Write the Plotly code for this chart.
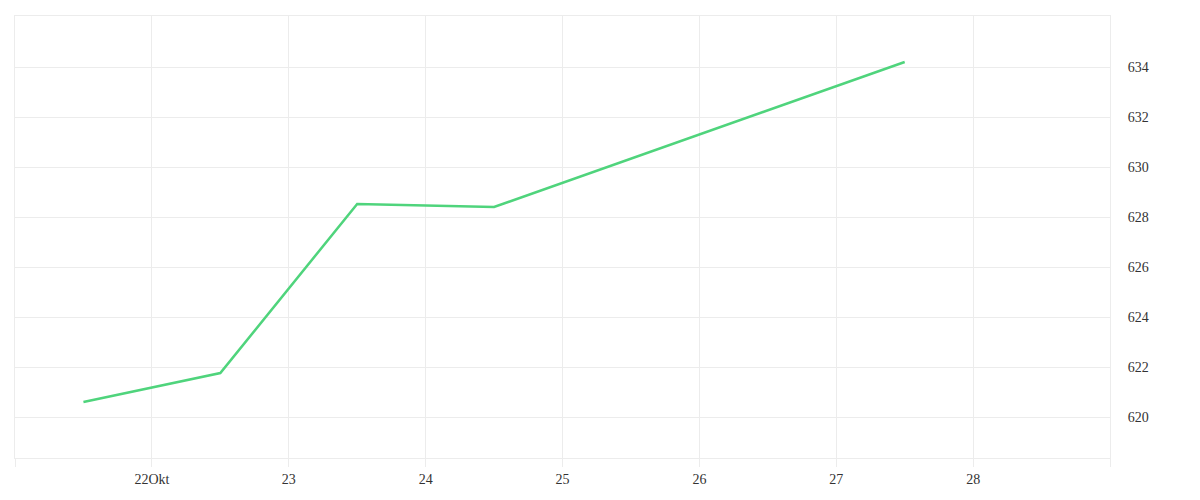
import plotly.graph_objects as go

dates = ["2023-10-21 12:00", "2023-10-22 12:00", "2023-10-23 12:00", "2023-10-24 12:00", "2023-10-27 12:00"]
values = [620.6, 621.76, 628.52, 628.4, 634.2]

tick_dates = ["2023-10-21", "2023-10-22", "2023-10-23", "2023-10-24", "2023-10-25",
              "2023-10-26", "2023-10-27", "2023-10-28", "2023-10-29"]
tick_labels = ["", "22Okt", "23", "24", "25", "26", "27", "28", ""]
y_ticks = [620, 622, 624, 626, 628, 630, 632, 634]

grid = "#ececec"

fig = go.Figure(go.Scatter(
    x=dates, y=values, mode="lines",
    line=dict(color="#4fd47c", width=2.5),
    hoverinfo="x+y",
))

fig.update_layout(
    width=1200, height=500,
    margin=dict(l=7, r=98, t=8, b=50),
    plot_bgcolor="white", paper_bgcolor="white",
    showlegend=False,
    font=dict(family="Liberation Serif", size=14, color="#333333"),
    xaxis=dict(
        type="date",
        range=["2023-10-21", "2023-10-29"],
        tickmode="array", tickvals=tick_dates, ticktext=tick_labels,
        showgrid=True, gridcolor=grid, gridwidth=1,
        ticks="outside", ticklen=8, tickcolor=grid,
        showline=True, linecolor=grid, mirror=True,
        zeroline=False,
        tickfont=dict(size=14),
    ),
    yaxis=dict(
        side="right",
        range=[618.36, 636.04],
        tickmode="array", tickvals=y_ticks,
        showgrid=True, gridcolor=grid, gridwidth=1,
        ticks="outside", ticklen=14, tickcolor="rgba(0,0,0,0)",
        showline=True, linecolor=grid, mirror=True,
        zeroline=False,
        tickfont=dict(size=14),
    ),
)

fig.write_html("out.html")
